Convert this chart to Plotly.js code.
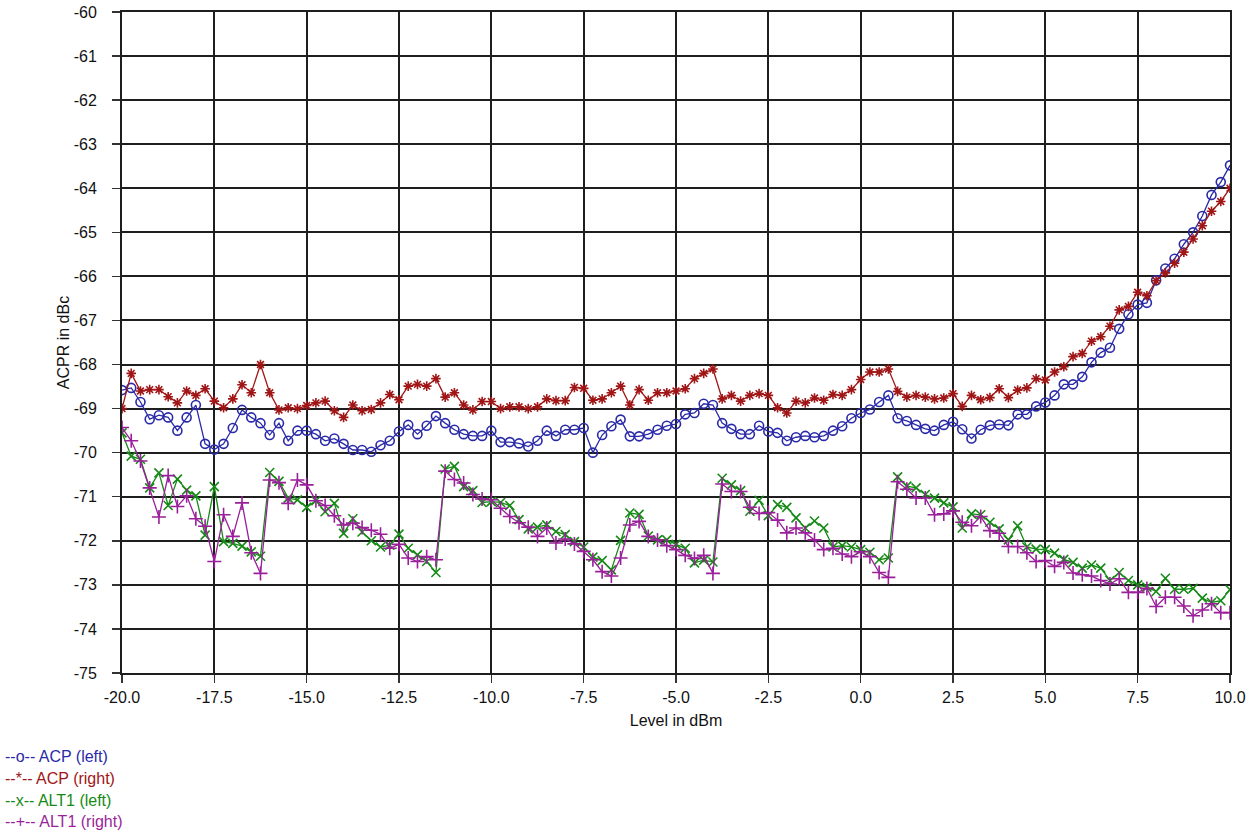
<!DOCTYPE html>
<html>
<head>
<meta charset="utf-8">
<script src="https://cdn.plot.ly/plotly-3.0.1.min.js"></script>
<style>html,body{margin:0;padding:0;background:#fff;}#chart{width:1258px;height:835px;}</style>
</head>
<body>
<div id="chart"></div>
<script>
var levels = [-20,-19.75,-19.5,-19.25,-19,-18.75,-18.5,-18.25,-18,-17.75,-17.5,-17.25,-17,-16.75,-16.5,-16.25,-16,-15.75,-15.5,-15.25,
-15,-14.75,-14.5,-14.25,-14,-13.75,-13.5,-13.25,-13,-12.75,-12.5,-12.25,-12,-11.75,-11.5,-11.25,-11,-10.75,-10.5,-10.25,
-10,-9.75,-9.5,-9.25,-9,-8.75,-8.5,-8.25,-8,-7.75,-7.5,-7.25,-7,-6.75,-6.5,-6.25,-6,-5.75,-5.5,-5.25,
-5,-4.75,-4.5,-4.25,-4,-3.75,-3.5,-3.25,-3,-2.75,-2.5,-2.25,-2,-1.75,-1.5,-1.25,-1,-0.75,-0.5,-0.25,
0,0.25,0.5,0.75,1,1.25,1.5,1.75,2,2.25,2.5,2.75,3,3.25,3.5,3.75,4,4.25,4.5,4.75,
5,5.25,5.5,5.75,6,6.25,6.5,6.75,7,7.25,7.5,7.75,8,8.25,8.5,8.75,9,9.25,9.5,9.75,10];

var acpLeft = [-68.58,-68.53,-68.85,-69.24,-69.15,-69.2,-69.5,-69.2,-68.92,-69.8,-69.93,-69.8,-69.44,-69.03,-69.2,-69.33,-69.6,-69.33,-69.73,-69.5,
-69.5,-69.58,-69.73,-69.68,-69.8,-69.94,-69.94,-69.98,-69.83,-69.73,-69.52,-69.37,-69.58,-69.39,-69.17,-69.33,-69.48,-69.58,-69.62,-69.62,
-69.5,-69.76,-69.76,-69.79,-69.86,-69.73,-69.5,-69.62,-69.48,-69.48,-69.44,-70.0,-69.6,-69.4,-69.25,-69.63,-69.63,-69.58,-69.48,-69.39,
-69.35,-69.13,-69.1,-68.89,-68.92,-69.33,-69.46,-69.58,-69.58,-69.39,-69.52,-69.55,-69.73,-69.65,-69.62,-69.65,-69.62,-69.5,-69.4,-69.22,
-69.1,-69.02,-68.85,-68.7,-69.22,-69.28,-69.37,-69.46,-69.5,-69.37,-69.3,-69.47,-69.68,-69.48,-69.38,-69.36,-69.38,-69.13,-69.13,-68.95,
-68.86,-68.7,-68.45,-68.45,-68.28,-67.95,-67.73,-67.62,-67.19,-66.86,-66.64,-66.6,-66.09,-65.82,-65.6,-65.27,-65.0,-64.63,-64.15,-63.86,-63.48];

var acpRight = [-69.0,-68.2,-68.6,-68.57,-68.57,-68.73,-68.87,-68.6,-68.7,-68.55,-68.83,-68.98,-68.78,-68.46,-68.64,-68.0,-68.64,-69.03,-68.98,-69.0,
-68.93,-68.87,-68.83,-69.05,-69.2,-68.92,-69.05,-69.02,-68.87,-68.68,-68.8,-68.49,-68.45,-68.49,-68.32,-68.74,-68.64,-68.92,-69.03,-68.84,
-68.84,-69.0,-68.96,-68.96,-69.0,-68.96,-68.78,-68.82,-68.82,-68.52,-68.54,-68.81,-68.78,-68.64,-68.49,-68.92,-68.57,-68.81,-68.64,-68.64,
-68.6,-68.55,-68.32,-68.2,-68.1,-68.78,-68.7,-68.83,-68.7,-68.66,-68.7,-68.98,-69.1,-68.83,-68.87,-68.76,-68.81,-68.68,-68.7,-68.57,
-68.34,-68.17,-68.17,-68.1,-68.61,-68.74,-68.7,-68.74,-68.78,-68.76,-68.66,-68.95,-68.7,-68.8,-68.75,-68.55,-68.75,-68.58,-68.53,-68.32,
-68.35,-68.17,-68.05,-67.82,-67.75,-67.47,-67.37,-67.13,-66.76,-66.68,-66.36,-66.44,-66.1,-65.92,-65.7,-65.45,-65.15,-64.85,-64.52,-64.3,-64.0];

var alt1Left = [-69.55,-70.08,-70.15,-70.8,-70.46,-71.2,-70.6,-70.85,-70.98,-71.87,-70.77,-72.02,-72.06,-72.12,-72.25,-72.35,-70.45,-70.65,-71.03,-71.07,
-71.24,-71.09,-71.34,-71.15,-71.83,-71.5,-71.8,-72.0,-72.14,-72.1,-71.85,-72.17,-72.32,-72.47,-72.72,-70.37,-70.31,-70.77,-70.86,-71.13,
-71.11,-71.13,-71.2,-71.52,-71.73,-71.69,-71.64,-71.79,-71.86,-72.02,-72.14,-72.37,-72.45,-72.66,-71.99,-71.37,-71.4,-71.89,-71.98,-71.98,
-72.08,-72.17,-72.5,-72.44,-72.48,-70.58,-70.73,-70.86,-71.33,-71.08,-71.43,-71.18,-71.24,-71.48,-71.71,-71.55,-71.71,-72.14,-72.11,-72.14,
-72.2,-72.26,-72.43,-72.39,-70.55,-70.76,-70.8,-70.95,-71.03,-71.14,-71.23,-71.71,-71.39,-71.41,-71.58,-71.73,-71.98,-71.66,-72.14,-72.19,
-72.2,-72.28,-72.42,-72.49,-72.62,-72.55,-72.62,-72.9,-72.72,-72.9,-73.0,-73.05,-73.15,-72.85,-73.1,-73.1,-73.08,-73.3,-73.4,-73.36,-73.11];

var alt1Right = [-69.43,-69.73,-70.19,-70.8,-71.46,-70.52,-71.22,-70.98,-71.5,-71.67,-72.47,-71.41,-71.9,-71.14,-72.27,-72.74,-70.62,-70.68,-71.15,-70.62,
-70.73,-71.09,-71.2,-71.43,-71.64,-71.6,-71.7,-71.76,-71.85,-72.17,-72.08,-72.39,-72.47,-72.36,-72.43,-70.42,-70.61,-70.69,-70.95,-71.05,
-71.07,-71.26,-71.45,-71.59,-71.69,-71.9,-71.71,-72.05,-71.96,-72.07,-72.24,-72.43,-72.7,-72.8,-72.39,-71.64,-71.56,-71.9,-71.98,-72.11,
-72.2,-72.33,-72.4,-72.33,-72.74,-70.71,-70.88,-70.88,-71.24,-71.38,-71.36,-71.53,-71.82,-71.71,-71.82,-71.98,-72.2,-72.17,-72.3,-72.36,
-72.25,-72.36,-72.72,-72.83,-70.66,-70.83,-71.03,-71.03,-71.41,-71.39,-71.32,-71.58,-71.66,-71.45,-71.77,-71.83,-72.13,-72.13,-72.27,-72.47,
-72.45,-72.58,-72.49,-72.73,-72.77,-72.8,-72.9,-72.98,-72.86,-73.17,-73.17,-73.08,-73.49,-73.28,-73.28,-73.48,-73.7,-73.57,-73.43,-73.63,-73.63];

var seriesNames = ['ACP (left)', 'ACP (right)', 'ALT1 (left)', 'ALT1 (right)'];
var legendGlyphs = ['--o--', '--*--', '--x--', '--+--'];
var xTickVals = [-20,-17.5,-15,-12.5,-10,-7.5,-5,-2.5,0,2.5,5,7.5,10];
var xTickText = ['-20.0','-17.5','-15.0','-12.5','-10.0','-7.5','-5.0','-2.5','0.0','2.5','5.0','7.5','10.0'];
var yTickVals = [-60,-61,-62,-63,-64,-65,-66,-67,-68,-69,-70,-71,-72,-73,-74,-75];
var yTickText = ['-60','-61','-62','-63','-64','-65','-66','-67','-68','-69','-70','-71','-72','-73','-74','-75'];

var colors = ['#2a2aa8', '#a01515', '#168a16', '#9a1f9a'];
var symbols = ['circle-open', 'asterisk-open', 'x-thin-open', 'cross-thin-open'];
var sizes = [9, 8, 9, 10];
var ys = [acpLeft, acpRight, alt1Left, alt1Right];

var traces = ys.map(function (y, i) {
  return {
    x: levels, y: y, type: 'scatter', mode: 'lines+markers', name: seriesNames[i],
    line: {color: colors[i], width: 1.3},
    marker: {symbol: symbols[i], size: sizes[i], color: colors[i], line: {color: colors[i], width: 1.6}},
    showlegend: false
  };
});

var font = 'Liberation Sans, Arial, sans-serif';
var L = 122, T = 12, W = 1108, H = 661;
var annotations = seriesNames.map(function (n, i) {
  var ypx = 757 + i * 21.5;
  return {
    xref: 'paper', yref: 'paper', x: (3 - L) / W, y: (T + H - ypx) / H,
    xanchor: 'left', yanchor: 'middle', showarrow: false,
    text: legendGlyphs[i] + ' ' + n,
    font: {family: font, size: 16, color: colors[i]}
  };
});

var layout = {
  width: 1258, height: 835,
  margin: {l: L, r: 28, t: T, b: 162, pad: 0},
  paper_bgcolor: '#fff', plot_bgcolor: '#fff',
  font: {family: font, size: 16, color: '#111'},
  xaxis: {
    range: [-20, 10], tickmode: 'array', tickvals: xTickVals, ticktext: xTickText,
    showgrid: true, gridcolor: '#1e1e1e', gridwidth: 2, zeroline: false,
    showline: true, linecolor: '#1e1e1e', linewidth: 2, mirror: true,
    ticks: 'outside', ticklen: 8, tickcolor: '#333', tickwidth: 1.5,
    ticklabelstandoff: 1,
    tickfont: {family: font, size: 16, color: '#111'},
    title: {text: 'Level in dBm', font: {family: font, size: 16, color: '#111'}, standoff: 10}
  },
  yaxis: {
    range: [-75, -60], tickmode: 'array', tickvals: yTickVals, ticktext: yTickText,
    showgrid: true, gridcolor: '#1e1e1e', gridwidth: 2, zeroline: false,
    showline: true, linecolor: '#1e1e1e', linewidth: 2, mirror: true,
    ticks: 'outside', ticklen: 8, tickcolor: '#333', tickwidth: 1.5,
    ticklabelstandoff: 12,
    tickfont: {family: font, size: 16, color: '#111'},
    title: {text: 'ACPR in dBc', font: {family: font, size: 16, color: '#111'}, standoff: 0}
  },
  annotations: annotations
};

Plotly.newPlot('chart', traces, layout, {displayModeBar: false, staticPlot: true});
</script>
</body>
</html>
